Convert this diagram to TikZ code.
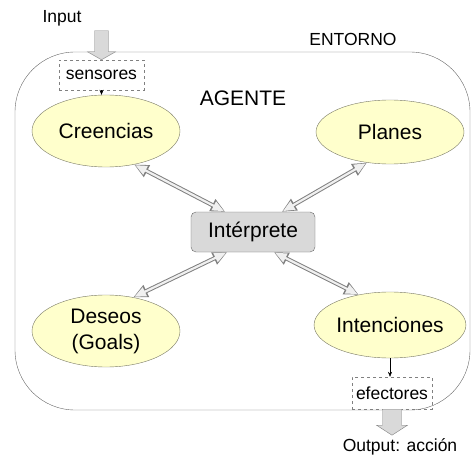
\documentclass[tikz,border=0pt]{standalone}
\usepackage{fontspec}
\setmainfont{Liberation Sans}
\usetikzlibrary{arrows.meta,positioning,shapes.geometric}
\definecolor{creamfill}{RGB}{255,255,204}
\definecolor{olivegray}{RGB}{120,120,100}

\begin{document}
\begin{tikzpicture}[x=1pt,y=-1pt,>={Stealth[length=5pt,width=4pt]},
                    font=\fontsize{21}{26}\selectfont]
  \tikzstyle{mental}=[ellipse,draw=olivegray,fill=creamfill,align=center,
                      minimum width=148pt,minimum height=72pt,inner sep=0pt]
  \tikzstyle{sensor}=[draw=gray,dashed,thin,minimum width=85pt,minimum height=30pt,
                      font=\fontsize{17.5}{20}\selectfont]
  \tikzstyle{small}=[font=\fontsize{17.5}{20}\selectfont]
  \tikzstyle{link}=[draw=gray!12,line width=2.2pt,shorten >=1.4pt,shorten <=1.4pt,
                    {Triangle[length=11.5pt,width=9.5pt]}-{Triangle[length=11.5pt,width=9.5pt]},
                    preaction={draw=gray,line width=4.2pt,shorten >=0pt,shorten <=0pt,
                    {Triangle[length=14.5pt,width=12.5pt]}-{Triangle[length=14.5pt,width=12.5pt]}}]
  \tikzstyle{block}=[draw=gray,fill=gray!30,thin]

  \useasboundingbox (0,0) rectangle (476,457);
  \node[draw=gray!80!black,thin,rounded corners=60pt,
        minimum width=455pt,minimum height=358pt] (ent) at (242.5,231) {};

  \node[draw=gray!80!black,fill=gray!30,rounded corners=5pt,
        minimum width=124pt,minimum height=40pt] (int) at (253,232) {Intérprete};
  \node[mental]                     (cre)  at (106,131) {Creencias};
  \node[mental,minimum height=64pt] (pla)  at (390,132) {Planes};
  \node[mental]                     (des)  at (106,331) {Deseos\\(Goals)};
  \node[mental,minimum height=66pt] (intc) at (390,325) {Intenciones};

  \node[sensor] (sens) at (101.5,75) {sensores};
  \node[sensor,minimum width=80pt,minimum height=32pt] (efe) at (392,393) {efectores};

  \node[small] (inp)  at (62,18)   {Input};
  \node[small] (entl) at (353,39)  {ENTORNO};
  \node        (age)  at (243,98)  {AGENTE};
  \node[small] (out)  at (400,447) {Output: acción};

  \path (cre.-50)  edge[link] (int.144)
        (pla.-127) edge[link] (int.35)
        (des.51)   edge[link] (int.-142)
        (intc.136) edge[link] (int.-44);

  \draw[->] (sens.south) -- (sens.south |- cre.north);
  \draw[->] (intc.south) -- (intc.south |- efe.north);

  \draw[block,shift={(sens.north)}] (-7,-29) -- (7,-29) -- (7,-8) -- (14,-8)
        -- (0,0) -- (-14,-8) -- (-7,-8) -- cycle;
  \draw[block,shift={(efe.south)}] (-9.5,0) -- (9.5,0) -- (9.5,16) -- (15.5,16)
        -- (0,26) -- (-15.5,16) -- (-9.5,16) -- cycle;
\end{tikzpicture}
\end{document}
